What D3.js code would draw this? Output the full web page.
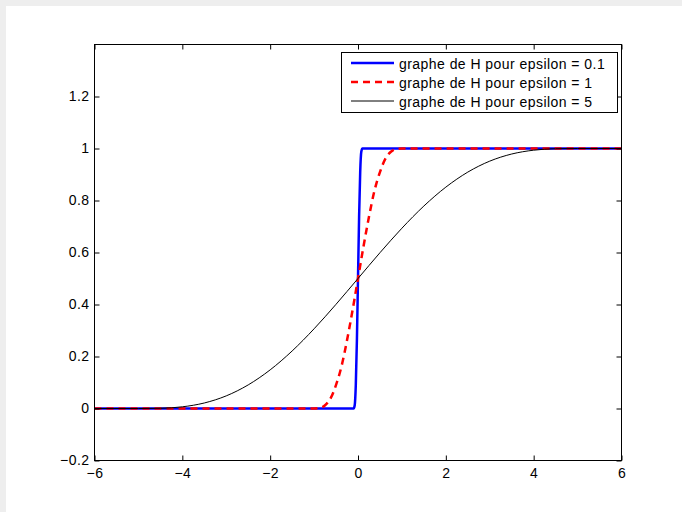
<!DOCTYPE html>
<html>
<head>
<meta charset="utf-8">
<script src="https://cdn.jsdelivr.net/npm/d3@7"></script>
<style>
  html, body { margin: 0; padding: 0; background: #eeeeee; }
  svg { display: block; }
  text { font-family: "Liberation Sans", Arial, Helvetica, sans-serif; }
</style>
</head>
<body>
<script>
// values (x, H) for each epsilon
var xBlue = [-6, -0.1, -0.075, -0.05, -0.025, 0, 0.025, 0.05, 0.075, 0.1, 6];
var yBlue = [0, 0, 0.0125, 0.0908, 0.2625, 0.5, 0.7375, 0.9092, 0.9875, 1, 1];

var xRed = [-6, -1, -0.875, -0.75, -0.625, -0.5, -0.375, -0.25, -0.125, 0, 0.125, 0.25, 0.375, 0.5, 0.625, 0.75, 0.875, 1, 6];
var yRed = [0, 0, 0.0017, 0.0125, 0.0388, 0.0908, 0.1624, 0.2625, 0.3770, 0.5, 0.6230, 0.7375, 0.8376, 0.9092, 0.9612, 0.9875, 0.9983, 1, 1];

var xBlack = [-6, -5, -4.5, -4, -3.5, -3, -2.5, -2, -1.5, -1, -0.5, 0, 0.5, 1, 1.5, 2, 2.5, 3, 3.5, 4, 4.5, 5, 6];
var yBlack = [0, 0, 0.0008, 0.0065, 0.0212, 0.0486, 0.0908, 0.1486, 0.2212, 0.3065, 0.4008, 0.5, 0.5992, 0.6935, 0.7788, 0.8514, 0.9092, 0.9514, 0.9788, 0.9935, 0.9992, 1, 1];

var legendLabels = ["graphe de H pour epsilon = 0.1", "graphe de H pour epsilon = 1", "graphe de H pour epsilon = 5"];
var xTicks = [-6, -4, -2, 0, 2, 4, 6];
var yTicks = [-0.2, 0, 0.2, 0.4, 0.6, 0.8, 1, 1.2];

var width = 682, height = 512;
var plot = { left: 94.5, right: 621.5, top: 44.5, bottom: 460.5 };
var fontSize = "14px", spacing = "0.45px";

var svg = d3.select("body").append("svg").attr("width", width).attr("height", height);

// white figure area
svg.append("rect").attr("x", 6).attr("y", 6).attr("width", width - 6).attr("height", height - 6).attr("fill", "#ffffff");

var x = d3.scaleLinear().domain([-6, 6]).range([plot.left, plot.right]);
var y = d3.scaleLinear().domain([-0.2, 1.4]).range([plot.bottom, plot.top]);

var g = svg.append("g");

// clip so lines stay inside the box
svg.append("defs").append("clipPath").attr("id", "clip")
    .append("rect")
    .attr("x", plot.left).attr("y", plot.top)
    .attr("width", plot.right - plot.left).attr("height", plot.bottom - plot.top);

var line = d3.line()
    .x(function(d) { return x(d[0]); })
    .y(function(d) { return y(d[1]); })
    .curve(d3.curveMonotoneX);

function pairs(xs, ys) {
    return xs.map(function(v, i) { return [v, ys[i]]; });
}

var series = [
    { data: pairs(xBlack, yBlack), color: "#000000", width: 1, dash: null },
    { data: pairs(xRed, yRed), color: "#ff0000", width: 2.5, dash: "7,5" },
    { data: pairs(xBlue, yBlue), color: "#0000ff", width: 2.5, dash: null }
];
// blue first, then red dashed, then black on top
var drawOrder = [series[2], series[1], series[0]];

g.append("g").attr("clip-path", "url(#clip)")
    .selectAll("path")
    .data(drawOrder)
    .enter().append("path")
    .attr("d", function(d) { return line(d.data); })
    .attr("fill", "none")
    .attr("stroke", function(d) { return d.color; })
    .attr("stroke-width", function(d) { return d.width; })
    .attr("stroke-dasharray", function(d) { return d.dash; })
    .attr("stroke-linejoin", "round");

// axes: ticks inward on all four sides
var tickLen = 5;
var fmt = function(d) { return d3.format("")(d).replace("-", "\u2212"); };

var bottomAxis = d3.axisBottom(x).tickValues(xTicks).tickSize(-tickLen).tickPadding(8).tickFormat(fmt);
var topAxis = d3.axisTop(x).tickValues(xTicks).tickSize(-tickLen).tickFormat("");
var leftAxis = d3.axisLeft(y).tickValues(yTicks).tickSize(-tickLen).tickPadding(5).tickFormat(fmt);
var rightAxis = d3.axisRight(y).tickValues(yTicks).tickSize(-tickLen).tickFormat("");

function styleAxis(sel) {
    sel.select(".domain").remove();
    sel.selectAll(".tick line").attr("stroke", "#000").attr("stroke-width", 1);
    sel.selectAll("text").attr("fill", "#000").style("font-size", fontSize)
        .style("letter-spacing", spacing)
        .style("font-family", "'Liberation Sans', Arial, sans-serif");
}

g.append("g").attr("transform", "translate(0," + plot.bottom + ")").call(bottomAxis).call(styleAxis);
g.append("g").attr("transform", "translate(0," + plot.top + ")").call(topAxis).call(styleAxis);
g.append("g").attr("transform", "translate(" + plot.left + ",0)").call(leftAxis).call(styleAxis);
g.append("g").attr("transform", "translate(" + plot.right + ",0)").call(rightAxis).call(styleAxis);

// box
g.append("rect")
    .attr("x", plot.left).attr("y", plot.top)
    .attr("width", plot.right - plot.left).attr("height", plot.bottom - plot.top)
    .attr("fill", "none").attr("stroke", "#000").attr("stroke-width", 1);

// legend
var legend = g.append("g");
legend.append("rect")
    .attr("x", 341.5).attr("y", 52.5).attr("width", 276).attr("height", 60)
    .attr("fill", "#fff").attr("stroke", "#000").attr("stroke-width", 1);

var legendItems = [series[2], series[1], series[0]];
legendItems.forEach(function(s, i) {
    var ly = 63 + i * 19;
    legend.append("line")
        .attr("x1", 351).attr("x2", 394).attr("y1", ly).attr("y2", ly)
        .attr("stroke", s.color).attr("stroke-width", s.width)
        .attr("stroke-dasharray", s.dash);
    legend.append("text")
        .attr("x", 399).attr("y", ly + 1).attr("dy", "0.35em")
        .style("font-size", fontSize)
        .style("letter-spacing", spacing)
        .text(legendLabels[i]);
});
</script>
</body>
</html>
